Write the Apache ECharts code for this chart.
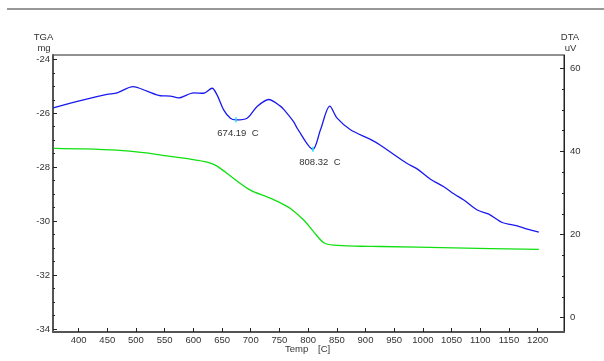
<!DOCTYPE html>
<html>
<head>
<meta charset="utf-8">
<script src="https://cdn.jsdelivr.net/npm/echarts@6/dist/echarts.min.js"></script>
<style>
html,body{margin:0;padding:0;background:#fff;}
#c{width:604px;height:361px;}
</style>
</head>
<body>
<div id="c"></div>
<script>
// DTA curve (uV, right axis)
const dtaTemp = [355.9,408.7,449.5,467,494.9,519.3,542.5,559.9,574.4,600.5,618,632.6,641.3,652.8,664.5,674.2,693.6,711.1,731.3,751.7,757.5,774.9,780.8,808.3,821.5,837.7,850.6,873.8,908.6,926.1,955.2,972.6,990,1013.3,1036.4,1053.9,1071.3,1094.7,1114.9,1138.3,1164.4,1181.9,1202];
const dtaValues = [50.5,52.4,53.7,54.1,55.6,54.5,53.4,53.3,52.9,54.1,54.0,55.2,53.6,50.0,48.0,47.6,48.0,50.8,52.5,50.9,50.1,47.1,45.6,40.5,45.2,50.9,48.0,45.2,42.9,41.5,38.7,37.1,35.8,33.3,31.5,29.8,28.3,25.9,24.9,22.9,22.1,21.3,20.6];
// TGA curve (mg, left axis)
const tgaTemp = [356.4,408.7,467,513.3,554.1,594.8,623.9,641.3,670.3,699.4,728.5,751.7,769.1,792.3,809.8,827.2,844.6,891.2,926.1,1053.9,1202];
const tgaValues = [-27.30,-27.32,-27.37,-27.46,-27.58,-27.70,-27.81,-27.96,-28.42,-28.85,-29.10,-29.32,-29.53,-29.96,-30.40,-30.80,-30.89,-30.93,-30.94,-30.99,-31.05];
// DTA peak annotations
const peakTemps = [674.19, 808.32];
const peakValues = [47.6, 40.5];
// tick labels
const xTicks = [400,450,500,550,600,650,700,750,800,850,900,950,1000,1050,1100,1150,1200];
const tgaTicks = [-34,-32,-30,-28,-26,-24];
const tgaMinor = [-33.5,-33,-32.5,-31.5,-31,-30.5,-29.5,-29,-28.5,-27.5,-27,-26.5,-25.5,-25,-24.5];
const dtaTicks = [0,20,40,60];
const dtaMinor = [5,10,15,25,30,35,45,50,55];

const FONT = '"Liberation Sans",Arial,sans-serif';
const FS = 9.5;
const TXT = '#333';
const labelOffsets = [[2,0],[7,0]];

const chart = echarts.init(document.getElementById('c'), null, {renderer:'canvas'});
const zip = (a,b) => a.map((v,i)=>[v,b[i]]);
const plain = v => String(v);

chart.setOption({
  animation:false,
  backgroundColor:'#fff',
  grid:{left:53, top:55, right:40, bottom:29, show:true, borderColor:'#222', borderWidth:1, backgroundColor:'transparent'},
  xAxis:{
    type:'value', min:355.4, max:1245.9,
    axisLine:{show:true, onZero:false, lineStyle:{color:'#555', width:2}},
    axisTick:{show:true, inside:true, length:4, customValues:xTicks, lineStyle:{color:'#222'}},
    axisLabel:{customValues:xTicks, formatter:plain, margin:3, color:TXT, fontFamily:FONT, fontSize:FS},
    splitLine:{show:false}
  },
  yAxis:[
    {
      type:'value', position:'left', min:-34.11, max:-23.84,
      axisLine:{show:true, onZero:false, lineStyle:{color:'#555', width:2}},
      axisTick:{show:true, inside:true, length:4, customValues:tgaTicks, lineStyle:{color:'#222'}},
      axisLabel:{customValues:tgaTicks, formatter:plain, margin:3, color:TXT, fontFamily:FONT, fontSize:FS},
      splitLine:{show:false}
    },
    {
      type:'value', position:'right', min:-3.44, max:63.2,
      axisLine:{show:true, onZero:false, lineStyle:{color:'#222', width:1}},
      axisTick:{show:true, inside:true, length:4, customValues:dtaTicks, lineStyle:{color:'#222'}},
      axisLabel:{customValues:dtaTicks, formatter:plain, margin:6, color:TXT, fontFamily:FONT, fontSize:FS},
      splitLine:{show:false}
    },
    {
      type:'value', position:'left', min:-34.11, max:-23.84,
      axisLine:{show:false, onZero:false},
      axisTick:{show:true, inside:true, length:2, customValues:tgaMinor, lineStyle:{color:'#222'}},
      axisLabel:{show:false},
      splitLine:{show:false}
    },
    {
      type:'value', position:'right', min:-3.44, max:63.2,
      axisLine:{show:false, onZero:false},
      axisTick:{show:true, inside:true, length:2, customValues:dtaMinor, lineStyle:{color:'#222'}},
      axisLabel:{show:false},
      splitLine:{show:false}
    }
  ],
  series:[
    {
      type:'line', name:'TGA', yAxisIndex:0, data:zip(tgaTemp,tgaValues),
      showSymbol:false, smooth:0.3,
      lineStyle:{color:'#10e010', width:1.3}
    },
    {
      type:'line', name:'DTA', yAxisIndex:1, data:zip(dtaTemp,dtaValues),
      showSymbol:false, smooth:0.3,
      lineStyle:{color:'#1a1aee', width:1.3},
      markPoint:{
        silent:true,
        data: peakTemps.map((t,i)=>({
          coord:[t, peakValues[i]],
          symbol:'rect', symbolSize:[1.5,5],
          itemStyle:{color:'#22e0ff'},
          label:{show:true, position:'bottom', distance:6, offset:labelOffsets[i],
            formatter: t.toFixed(2) + '  C', color:TXT, fontFamily:FONT, fontSize:FS}
        }))
      }
    }
  ],
  graphic:[
    {type:'line', shape:{x1:7, y1:9, x2:604, y2:9}, style:{stroke:'#333', lineWidth:1.2}},
    {type:'text', x:43.5, y:37, style:{text:'TGA', fill:TXT, font:FS+'px '+FONT, textAlign:'center', textVerticalAlign:'middle'}},
    {type:'text', x:44, y:48, style:{text:'mg', fill:TXT, font:FS+'px '+FONT, textAlign:'center', textVerticalAlign:'middle'}},
    {type:'text', x:570, y:37, style:{text:'DTA', fill:TXT, font:FS+'px '+FONT, textAlign:'center', textVerticalAlign:'middle'}},
    {type:'text', x:570.5, y:48, style:{text:'uV', fill:TXT, font:FS+'px '+FONT, textAlign:'center', textVerticalAlign:'middle'}},
    {type:'text', x:285, y:349, style:{text:'Temp', fill:TXT, font:FS+'px '+FONT, textAlign:'left', textVerticalAlign:'middle'}},
    {type:'text', x:318, y:349, style:{text:'[C]', fill:TXT, font:FS+'px '+FONT, textAlign:'left', textVerticalAlign:'middle'}}
  ]
});
</script>
</body>
</html>
